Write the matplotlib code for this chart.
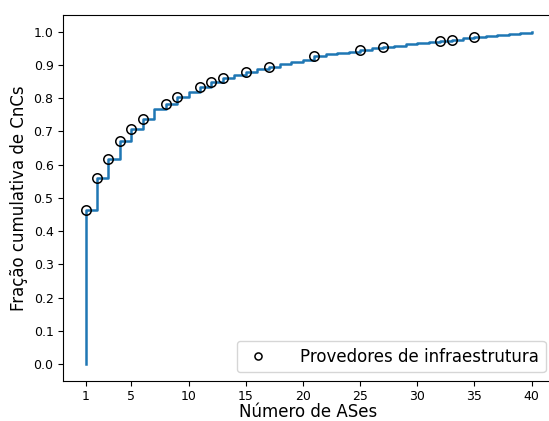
import matplotlib
matplotlib.use('Agg')
import matplotlib.pyplot as plt

# numero de ASes e fracao cumulativa (step)
num_ases = [1, 1, 2, 3, 4, 5, 6, 7, 8, 9, 10, 11, 12, 13, 14, 15, 16, 17, 18, 19, 20,
            21, 22, 23, 24, 25, 26, 27, 28, 29, 30, 31, 32, 33, 34, 35, 36, 37, 38, 39, 40]
frac_cum = [0.0, 0.464, 0.560, 0.617, 0.672, 0.707, 0.738, 0.767, 0.783, 0.802, 0.818,
            0.833, 0.849, 0.860, 0.870, 0.880, 0.888, 0.895, 0.903, 0.909, 0.916,
            0.927, 0.933, 0.936, 0.940, 0.945, 0.950, 0.954, 0.958, 0.962, 0.965,
            0.968, 0.971, 0.976, 0.980, 0.985, 0.988, 0.991, 0.994, 0.997, 1.0]

# provedores de infraestrutura (marcadores)
prov_x = [1, 2, 3, 4, 5, 6, 8, 9, 11, 12, 13, 15, 17, 21, 25, 27, 32, 33, 35]
prov_y = [0.464, 0.560, 0.617, 0.672, 0.707, 0.738, 0.783, 0.802, 0.833, 0.849, 0.860,
          0.880, 0.895, 0.927, 0.945, 0.954, 0.971, 0.976, 0.985]

xticks = [1, 5, 10, 15, 20, 25, 30, 35, 40]

fig = plt.figure(figsize=(5.49, 4.21), dpi=100)
ax = fig.add_axes([0.1153, 0.0957, 0.8937, 0.8687])

ax.step(num_ases, frac_cum, where='post', color='tab:blue', linewidth=1.8)
ax.plot(prov_x, prov_y, 'o', markerfacecolor='none', markeredgecolor='black',
        markersize=6.8, markeredgewidth=1.1, label='Provedores de infraestrutura')

ax.set_xlim(-0.95, 41.95)
ax.set_ylim(-0.05, 1.05)
ax.set_xticks(xticks)
ax.set_yticks([i / 10 for i in range(11)])
ax.tick_params(labelsize=9)
ax.spines['right'].set_visible(False)  # fica fora do recorte
ax.set_xlabel('Número de ASes', fontsize=12, labelpad=-0.5)
ax.set_ylabel('Fração cumulativa de CnCs', fontsize=12)
ax.legend(loc='lower right', fontsize=12, markerscale=0.75,
          handlelength=1.8, handletextpad=1.6)

plt.savefig('out.png', dpi=100)
plt.close()
